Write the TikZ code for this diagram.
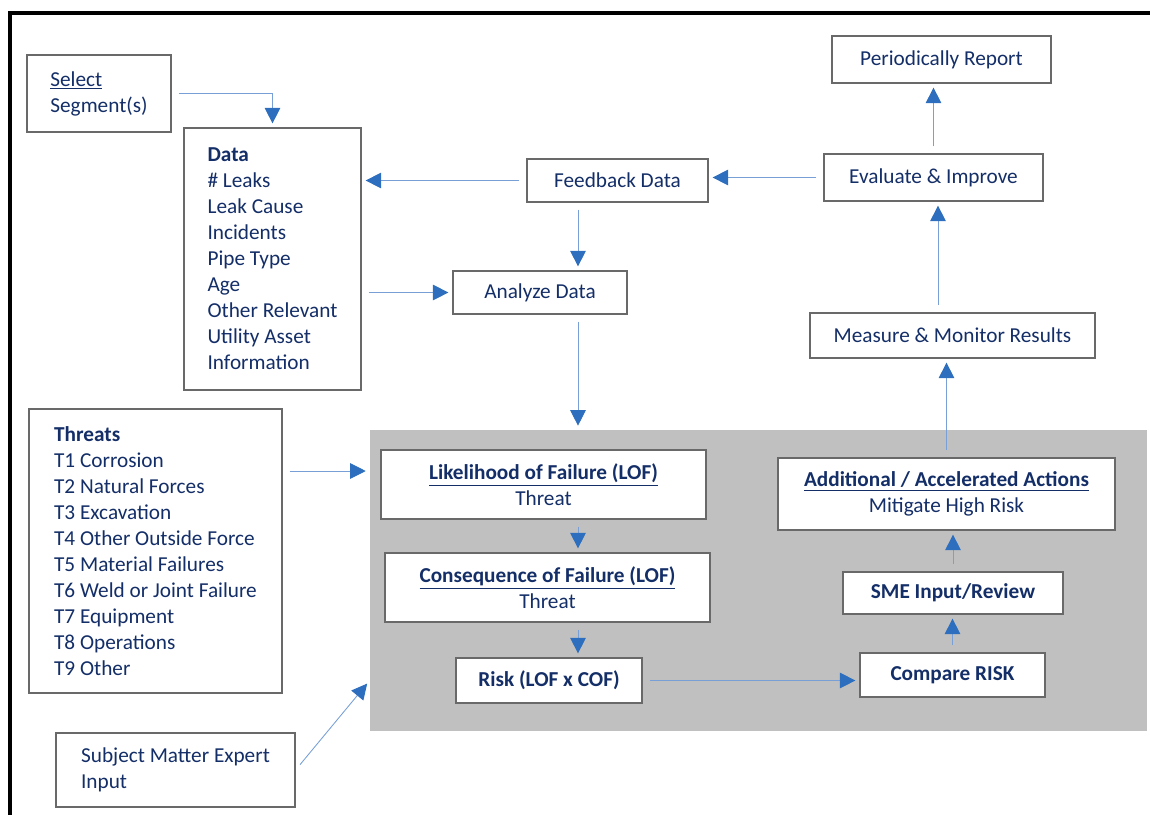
\documentclass[tikz,border=0pt]{standalone}
\usepackage{fontspec}
\setmainfont{Carlito}
\usetikzlibrary{arrows.meta}
\definecolor{navy}{RGB}{20, 46, 104}
\definecolor{boxgray}{RGB}{105, 105, 105}
\definecolor{panelgray}{RGB}{192, 192, 192}
\definecolor{linkblue}{RGB}{120, 160, 215}
\definecolor{tipblue}{RGB}{46, 110, 190}

\tikzset{
  box/.style={draw=boxgray, fill=white, line width=0.7pt, text=navy, inner sep=0pt,
              align=left, font=\fontsize{12.1}{14.8}\selectfont},
  gbox/.style={box, align=center},
  link/.style={draw=linkblue, line width=0.5pt, shorten <=0.14cm, shorten >=0.08cm,
               -{Triangle[color=tipblue, length=0.31cm, width=0.31cm]}}
}

\begin{document}
\begin{tikzpicture}[x=0.02cm, y=-0.02cm]
  \useasboundingbox (0,0) rectangle (1150,815);
  \draw[line width=2.4pt] (10,815) -- (10,13) -- (1150,13);
  \node[fill=panelgray, inner sep=0pt, minimum width=15.54cm, minimum height=6.02cm] (panel) at (758.5,580.5) {};

  % left column
  \node[box, minimum width=2.88cm, minimum height=1.54cm] (sel)  at ( 99.0, 93.5) {\underline{Select}\\Segment(s)};
  \node[box, minimum width=3.54cm, minimum height=5.24cm] (data) at (272.5,259.0)
       {\textbf{Data}\\\# Leaks\\Leak Cause\\Incidents\\Pipe Type\\Age\\Other Relevant\\Utility Asset\\Information};
  \node[box, minimum width=5.06cm, minimum height=5.68cm] (thr)  at (155.5,551.0)
       {\textbf{Threats}\\T1 Corrosion\\T2 Natural Forces\\T3 Excavation\\T4 Other Outside Force\\T5 Material Failures\\T6 Weld or Joint Failure\\T7 Equipment\\T8 Operations\\T9 Other};
  \node[box, minimum width=4.78cm, minimum height=1.48cm] (sme)  at (175.5,770.0) {Subject Matter Expert\\Input};

  % middle and right column
  \node[box, minimum width=3.62cm, minimum height=0.86cm] (feed) at (617.5,180.5) {Feedback Data};
  \node[box, minimum width=3.48cm, minimum height=0.86cm] (ana)  at (540.0,292.5) {Analyze Data};
  \node[box, minimum width=4.38cm, minimum height=0.94cm] (per)  at (941.5, 59.5) {Periodically Report};
  \node[box, minimum width=4.38cm, minimum height=0.94cm] (eval) at (933.5,177.5) {Evaluate \& Improve};
  \node[box, minimum width=5.70cm, minimum height=0.90cm] (meas) at (952.5,335.5) {Measure \& Monitor Results};

  % inside the grey panel
  \node[gbox, minimum width=6.50cm, minimum height=1.38cm] (lof)  at (543.5,484.5) {\textbf{\underline{Likelihood of Failure (LOF)}}\\Threat};
  \node[gbox, minimum width=6.50cm, minimum height=1.38cm] (cof)  at (547.5,587.5) {\textbf{\underline{Consequence of Failure (LOF)}}\\Threat};
  \node[gbox, minimum width=3.72cm, minimum height=0.90cm] (risk) at (549.0,680.5) {\textbf{Risk (LOF x COF)}};
  \node[gbox, minimum width=3.70cm, minimum height=0.88cm] (cmp)  at (952.5,675.0) {\textbf{Compare RISK}};
  \node[gbox, minimum width=4.40cm, minimum height=0.84cm] (smer) at (953.0,593.0) {\textbf{SME Input/Review}};
  \node[gbox, minimum width=6.74cm, minimum height=1.44cm] (add)  at (946.5,494.0) {\textbf{\underline{Additional / Accelerated Actions}}\\Mitigate High Risk};

  \coordinate (fa) at (578,0);
  \coordinate (me) at (938,0);
  \coordinate (ty) at (0,471);

  % connectors
  \draw[link] (sel.east)              -| (data.north);
  \draw[link] (feed.west)             -- (feed.west -| data.east);
  \draw[link] (eval.west)             -- (eval.west -| feed.east);
  \draw[link] (feed.south -| fa)      -- (ana.north -| fa);
  \draw[link] (data.east |- ana)      -- (ana.west);
  \draw[link] (ana.south -| fa)       -- (panel.north -| fa);
  \draw[link] (thr.east |- ty)        -- (panel.west |- ty);
  \draw[link] (sme.east)              -- (panel.west |- risk);
  \draw[link] (lof.south -| fa)       -- (cof.north -| fa);
  \draw[link] (cof.south -| fa)       -- (risk.north -| fa);
  \draw[link] (risk.east)             -- (risk.east -| cmp.west);
  \draw[link] (cmp.north)             -- (cmp.north |- smer.south);
  \draw[link] (smer.north)            -- (smer.north |- add.south);
  \draw[link] (add.north)             -- (add.north |- meas.south);
  \draw[link] (meas.north -| me)      -- (eval.south -| me);
  \draw[link] (eval.north)            -- (eval.north |- per.south);
\end{tikzpicture}
\end{document}
